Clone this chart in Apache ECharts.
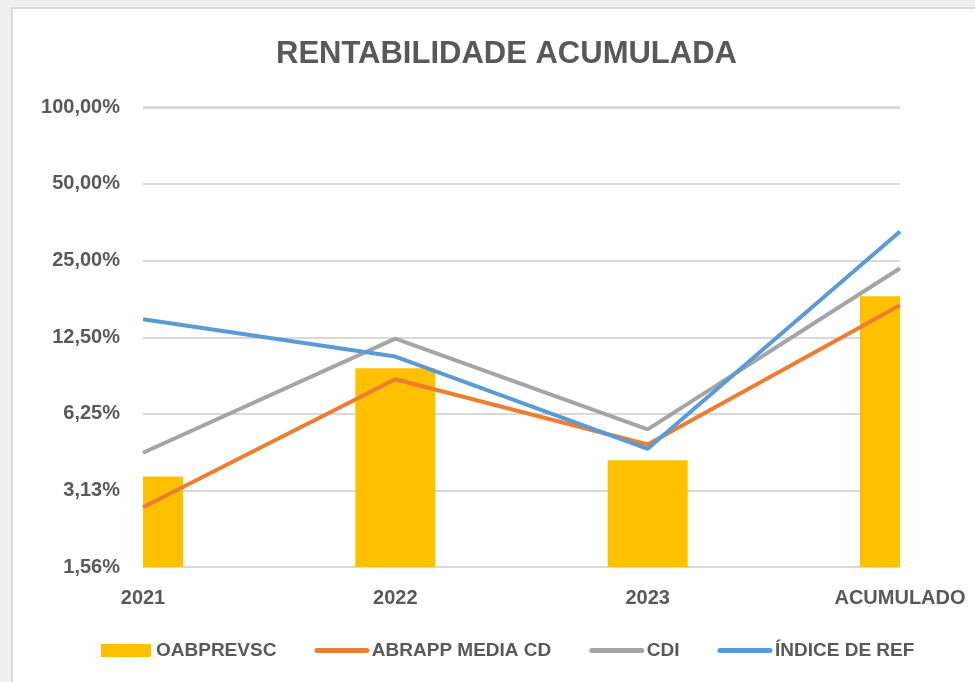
<!DOCTYPE html>
<html>
<head>
<meta charset="utf-8">
<script src="https://cdn.jsdelivr.net/npm/echarts@6/dist/echarts.min.js"></script>
<style>
  html, body { margin: 0; padding: 0; background: #efefef; }
  #frame { position: absolute; left: 11px; top: 7px; right: 0; bottom: 0; background: #fff; border-left: 2px solid #dadada; border-top: 2px solid #dadada; }
  #chart { position: absolute; left: 0; top: 0; width: 975px; height: 682px; }
</style>
</head>
<body>
<div id="frame"></div>
<div id="chart"></div>
<script>
// categorias e valores (%)
const categories = ['2021', '2022', '2023', 'ACUMULADO']
const oabprevsc = [3.54, 9.42, 4.10, 18.06]
const abrappMediaCd = [2.68, 8.53, 4.73, 16.65]
const cdi = [4.39, 12.32, 5.42, 23.28]
const indiceRef = [14.67, 10.47, 4.55, 32.44]
const yTickLabels = ['1,56%', '3,13%', '6,25%', '12,50%', '25,00%', '50,00%', '100,00%']
const yMin = 1.5625
const yMax = 100

const labelFont = 'Liberation Sans'
const textColor = '#595959'
const barWidth = 80

let chart = echarts.init(document.getElementById('chart'))

function lineSeries (name, data, color) {
  return {
    name: name,
    type: 'line',
    data: data,
    symbol: 'none',
    z: 3,
    lineStyle: { width: 4, color: color },
    itemStyle: { color: color }
  }
}

// item da legenda so com a linha, sem o circulo
function lineLegend (name) {
  return { name: name, itemStyle: { opacity: 0 }, lineStyle: { width: 5, cap: 'round' } }
}

// barra cortada na area do grid (o bar normal nao corta com boundaryGap false)
function renderBar (params, api) {
  let top = api.coord([api.value(0), api.value(1)])
  let base = api.coord([api.value(0), yMin])
  let cs = params.coordSys
  let rect = echarts.graphic.clipRectByRect(
    { x: top[0] - barWidth / 2, y: top[1], width: barWidth, height: base[1] - top[1] },
    { x: cs.x, y: cs.y, width: cs.width, height: cs.height }
  )
  return rect && { type: 'rect', shape: rect, style: { fill: '#FFC000' } }
}

chart.setOption({
  backgroundColor: 'transparent',
  animation: false,
  title: {
    text: 'RENTABILIDADE ACUMULADA',
    left: 271,
    top: 34,
    textStyle: { fontFamily: labelFont, fontWeight: 'bold', fontSize: 31, color: textColor }
  },
  legend: {
    top: 636,
    left: 96,
    itemWidth: 50,
    itemHeight: 13,
    itemGap: 38,
    textStyle: { fontFamily: labelFont, fontWeight: 'bold', fontSize: 19, color: textColor },
    data: [
      { name: 'OABPREVSC', icon: 'rect' },
      lineLegend('ABRAPP MEDIA CD'),
      lineLegend('CDI'),
      lineLegend('ÍNDICE DE REF')
    ]
  },
  grid: { left: 143, right: 75, top: 107, bottom: 115 },
  xAxis: {
    type: 'category',
    data: categories,
    boundaryGap: false,
    axisLine: { show: false },
    axisTick: { show: false },
    axisLabel: { fontFamily: labelFont, fontWeight: 'bold', fontSize: 20, color: textColor, margin: 21 }
  },
  yAxis: {
    type: 'log',
    logBase: 2,
    min: yMin,
    max: yMax,
    interval: 1,
    axisLine: { show: false },
    axisTick: { show: false },
    splitLine: { lineStyle: { color: '#d9d9d9', width: 2 } },
    axisLabel: {
      fontFamily: labelFont, fontWeight: 'bold', fontSize: 20, color: textColor, margin: 23,
      formatter: function (v) {
        let k = Math.round(Math.log2(v / yMin))
        return yTickLabels[k] || ''
      }
    }
  },
  series: [
    {
      name: 'OABPREVSC',
      type: 'custom',
      renderItem: renderBar,
      encode: { x: 0, y: 1 },
      data: oabprevsc.map((v, i) => [i, v]),
      itemStyle: { color: '#FFC000' }
    },
    lineSeries('ABRAPP MEDIA CD', abrappMediaCd, '#ED7D31'),
    lineSeries('CDI', cdi, '#A5A5A5'),
    lineSeries('ÍNDICE DE REF', indiceRef, '#5B9BD5')
  ]
})
</script>
</body>
</html>
